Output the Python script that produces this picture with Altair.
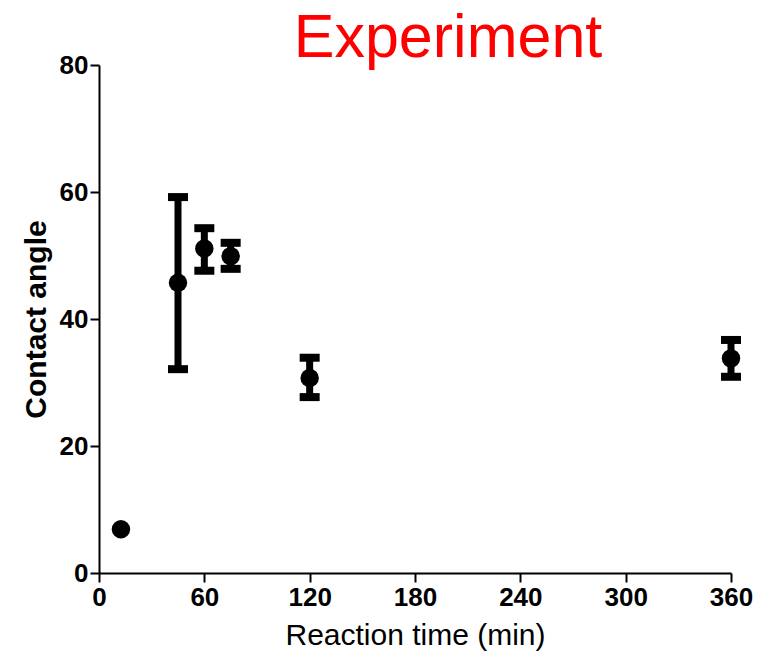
import altair as alt
import pandas as pd

# Data
times = [12.5, 45, 60, 75, 120, 360]
angle = [6.9, 45.7, 51.1, 49.9, 30.7, 33.8]
lower = [None, 32.1, 47.6, 47.9, 27.7, 30.9]
upper = [None, 59.2, 54.3, 52.0, 33.9, 36.7]

x_ticks = [0, 60, 120, 180, 240, 300, 360]
y_ticks = [0, 20, 40, 60, 80]
title_text = ["Experiment"]

df = pd.DataFrame({"time": times, "angle": angle, "lower": lower, "upper": upper})
err = df.dropna()

FONT = "Liberation Sans"

x_enc = alt.X("time:Q", scale=alt.Scale(domain=[0, 360], nice=False),
              axis=alt.Axis(values=x_ticks, title="Reaction time (min)"))
y_enc = alt.Y("angle:Q", scale=alt.Scale(domain=[0, 80], nice=False),
              axis=alt.Axis(values=y_ticks, title="Contact angle"))

points = alt.Chart(df).mark_point(filled=True, shape="circle", size=340, color="black", opacity=1).encode(
    x=x_enc, y=y_enc)

bars = alt.Chart(err).mark_rule(color="black", strokeWidth=7).encode(
    x="time:Q", y="lower:Q", y2="upper:Q")

caps_low = alt.Chart(err).mark_tick(color="black", thickness=8, size=20, orient="horizontal", opacity=1).encode(
    x="time:Q", y="lower:Q")
caps_up = alt.Chart(err).mark_tick(color="black", thickness=8, size=20, orient="horizontal", opacity=1).encode(
    x="time:Q", y="upper:Q")

title = alt.Chart(pd.DataFrame({"t": title_text})).mark_text(
    color="red", fontSize=61, font=FONT, align="center", baseline="alphabetic"
).encode(text="t:N", x=alt.value(349), y=alt.value(-8))

chart = alt.layer(bars, caps_low, caps_up, points, title).properties(
    width=632, height=508,
    autosize=alt.AutoSizeParams(type="none"),
    padding={"left": 91, "top": 57, "right": 25, "bottom": 81},
).configure_view(stroke=None).configure_axis(
    grid=False, domainColor="black", domainWidth=2, tickColor="black", tickWidth=2, tickSize=9,
    labelFont=FONT, labelFontWeight="bold", labelFontSize=26, labelColor="black", labelPadding=2,
    labelFlush=False, labelOverlap=False,
    titleFont=FONT, titleFontSize=30, titleColor="black",
).configure_axisY(titleFontWeight="bold", titlePadding=8).configure_axisX(
    titleFontWeight="normal", titleFontSize=30, titlePadding=10)

chart.save("out.html", embed_options={"renderer": "svg", "actions": False})
